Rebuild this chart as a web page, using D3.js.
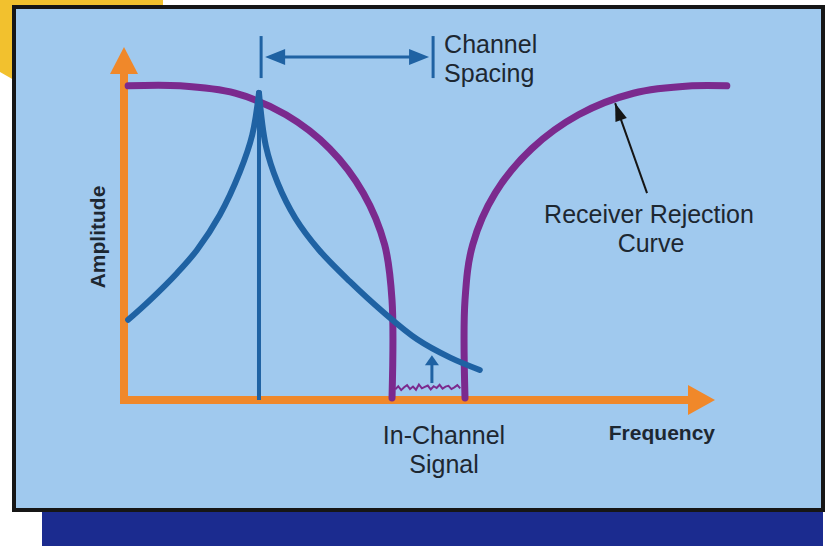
<!DOCTYPE html>
<html>
<head>
<meta charset="utf-8">
<script src="https://cdn.jsdelivr.net/npm/d3@7"></script>
<style>
    body { margin: 0; background: #ffffff; }
    svg { display: block; }
    text { font-family: "Liberation Sans", Arial, sans-serif; fill: #1d2731; }
</style>
</head>
<body>
<div class="plot"></div>
<script>
"use strict";

// receiver rejection curve (frequency, amplitude), both skirts
const rejectLeftFreq = [0.7, 9.5, 18.8, 27.4, 34.8, 40.5, 44.1, 45.35, 45.35];
const rejectLeftAmp = [89.0, 89.0, 86.9, 80.8, 71.2, 58.6, 44.0, 28.3, 0.6];
const rejectRightFreq = [57.7, 57.7, 59.0, 62.8, 69.0, 76.9, 86.2, 96.1, 102.0];
const rejectRightAmp = [0.6, 28.3, 44.0, 58.6, 71.2, 80.8, 86.9, 89.0, 89.0];

// adjacent channel signal spectrum
const signalLeftFreq = [0.7, 4.4, 9.0, 12.35, 16.2, 19.6, 21.7, 22.84];
const signalLeftAmp = [22.7, 28.3, 36.0, 42.5, 52.4, 64.6, 75.1, 87.0];
const signalRightFreq = [22.84, 24.0, 26.0, 29.0, 33.0, 38.2, 43.8, 49.6, 55.2, 60.2];
const signalRightAmp = [87.0, 72.0, 61.5, 51.5, 42.5, 33.6, 25.0, 17.2, 12.0, 8.5];
const carrierFreq = 22.84;
const carrierAmp = 87.0;

// in-channel signal trace
const noiseFreq = [45.9, 46.4, 46.9, 47.4, 47.9, 48.4, 48.9, 49.4, 49.9, 50.4, 50.9, 51.4,
    51.9, 52.4, 52.9, 53.4, 53.9, 54.4, 54.9, 55.4, 55.9, 56.4, 56.9];
const noiseAmp = [3.0, 3.9, 2.8, 3.6, 4.2, 3.1, 3.8, 2.9, 4.4, 3.3, 3.7, 4.1,
    3.0, 3.9, 3.4, 4.3, 3.2, 3.8, 4.0, 3.1, 3.6, 4.2, 3.3];

// channel spacing marker and pointers
const spacingFreq = [23.2, 52.3];
const spacingAmp = 97.2;
const spacingTick = [91.2, 103.1];
const inChannelArrow = { f: 52.1, a: [4.8, 12.7] };
const rejectPointer = { f: [88.5, 83.1], a: [58.6, 84.1] };

const W = 827, H = 546;
const BG = "#a0c9ee", ORANGE = "#f0882a", PURPLE = "#7b2a8e", BLUE = "#1f62a3";

var svg = d3.select(".plot").append("svg")
    .attr("width", W)
    .attr("height", H);

// decoration behind the panel
svg.append("polygon")
    .attr("points", "0,0 163,0 163,12 14,12 14,80 0,72")
    .attr("fill", "#f2c12e");
svg.append("rect")
    .attr("x", 42).attr("y", 510)
    .attr("width", 781).attr("height", 36)
    .attr("fill", "#1b2b8f");
svg.append("rect")
    .attr("x", 14).attr("y", 7)
    .attr("width", 809).attr("height", 503)
    .attr("fill", BG)
    .attr("stroke", "#161616")
    .attr("stroke-width", 4);

var x = d3.scaleLinear().domain([0, 100]).range([124, 715]);
var y = d3.scaleLinear().domain([0, 100]).range([400, 47]);

const zip = (fs, as) => fs.map((f, i) => [f, as[i]]);
var line = d3.line().x(d => x(d[0])).y(d => y(d[1]));
var smooth = d3.line().x(d => x(d[0])).y(d => y(d[1])).curve(d3.curveCatmullRom.alpha(0.5));

const arrowHead = (tx, ty, dx, dy, len, half) => {
    var n = Math.hypot(dx, dy);
    var ux = dx / n, uy = dy / n;
    var bx = tx - ux * len, by = ty - uy * len;
    return [[tx, ty], [bx - uy * half, by + ux * half], [bx + uy * half, by - ux * half]]
        .map(p => p.join(",")).join(" ");
}

// axes
svg.append("line")
    .attr("x1", x(0)).attr("y1", y(0) + 4)
    .attr("x2", x(0)).attr("y2", y(100) + 24)
    .attr("stroke", ORANGE).attr("stroke-width", 8);
svg.append("polygon")
    .attr("points", arrowHead(x(0), y(100), 0, -1, 27, 14))
    .attr("fill", ORANGE);
svg.append("line")
    .attr("x1", x(0) - 4).attr("y1", y(0))
    .attr("x2", x(100) - 24).attr("y2", y(0))
    .attr("stroke", ORANGE).attr("stroke-width", 8);
svg.append("polygon")
    .attr("points", arrowHead(x(100), y(0), 1, 0, 27, 15))
    .attr("fill", ORANGE);

// receiver rejection curve
[zip(rejectLeftFreq, rejectLeftAmp), zip(rejectRightFreq, rejectRightAmp)].forEach(pts => {
    svg.append("path")
        .attr("d", smooth(pts))
        .attr("fill", "none")
        .attr("stroke", PURPLE)
        .attr("stroke-width", 7)
        .attr("stroke-linecap", "round");
});

svg.append("path")
    .attr("d", line(zip(noiseFreq, noiseAmp)))
    .attr("fill", "none")
    .attr("stroke", PURPLE)
    .attr("stroke-width", 2);

// signal spectrum
svg.append("line")
    .attr("x1", x(carrierFreq)).attr("y1", y(0))
    .attr("x2", x(carrierFreq)).attr("y2", y(carrierAmp))
    .attr("stroke", BLUE).attr("stroke-width", 4);
[zip(signalLeftFreq, signalLeftAmp), zip(signalRightFreq, signalRightAmp)].forEach(pts => {
    svg.append("path")
        .attr("d", smooth(pts))
        .attr("fill", "none")
        .attr("stroke", BLUE)
        .attr("stroke-width", 6)
        .attr("stroke-linecap", "round");
});

// channel spacing marker
spacingFreq.forEach(f => {
    svg.append("line")
        .attr("x1", x(f)).attr("y1", y(spacingTick[0]))
        .attr("x2", x(f)).attr("y2", y(spacingTick[1]))
        .attr("stroke", BLUE).attr("stroke-width", 3);
});
svg.append("line")
    .attr("x1", x(spacingFreq[0]) + 12).attr("y1", y(spacingAmp))
    .attr("x2", x(spacingFreq[1]) - 12).attr("y2", y(spacingAmp))
    .attr("stroke", BLUE).attr("stroke-width", 3);
svg.append("polygon")
    .attr("points", arrowHead(x(spacingFreq[0]) + 4, y(spacingAmp), -1, 0, 20, 8))
    .attr("fill", BLUE);
svg.append("polygon")
    .attr("points", arrowHead(x(spacingFreq[1]) - 4, y(spacingAmp), 1, 0, 20, 8))
    .attr("fill", BLUE);

// small in-channel arrow
svg.append("line")
    .attr("x1", x(inChannelArrow.f)).attr("y1", y(inChannelArrow.a[0]))
    .attr("x2", x(inChannelArrow.f)).attr("y2", y(inChannelArrow.a[1]) + 8)
    .attr("stroke", BLUE).attr("stroke-width", 3);
svg.append("polygon")
    .attr("points", arrowHead(x(inChannelArrow.f), y(inChannelArrow.a[1]), 0, -1, 10, 7))
    .attr("fill", BLUE);

// pointer to the rejection curve
var p0 = [x(rejectPointer.f[0]), y(rejectPointer.a[0])];
var p1 = [x(rejectPointer.f[1]), y(rejectPointer.a[1])];
svg.append("line")
    .attr("x1", p0[0]).attr("y1", p0[1])
    .attr("x2", p1[0]).attr("y2", p1[1])
    .attr("stroke", "#151515").attr("stroke-width", 2);
svg.append("polygon")
    .attr("points", arrowHead(p1[0], p1[1], p1[0] - p0[0], p1[1] - p0[1], 18, 6))
    .attr("fill", "#151515");

// labels
svg.append("text")
    .attr("x", x(spacingFreq[1]) + 11).attr("y", 53)
    .style("font-size", "25px")
    .text("Channel");
svg.append("text")
    .attr("x", x(spacingFreq[1]) + 11).attr("y", 82)
    .style("font-size", "25px")
    .text("Spacing");

svg.append("text")
    .attr("x", 649).attr("y", 223)
    .attr("text-anchor", "middle")
    .style("font-size", "25px")
    .text("Receiver Rejection");
svg.append("text")
    .attr("x", 651).attr("y", 252)
    .attr("text-anchor", "middle")
    .style("font-size", "25px")
    .text("Curve");

svg.append("text")
    .attr("x", 444).attr("y", 444)
    .attr("text-anchor", "middle")
    .style("font-size", "25px")
    .text("In-Channel");
svg.append("text")
    .attr("x", 444).attr("y", 473)
    .attr("text-anchor", "middle")
    .style("font-size", "25px")
    .text("Signal");

svg.append("text")
    .attr("x", 715).attr("y", 440)
    .attr("text-anchor", "end")
    .style("font-size", "21px")
    .style("font-weight", "bold")
    .text("Frequency");

svg.append("text")
    .attr("transform", "translate(105,237) rotate(-90)")
    .attr("text-anchor", "middle")
    .style("font-size", "21px")
    .style("font-weight", "bold")
    .text("Amplitude");
</script>
</body>
</html>
